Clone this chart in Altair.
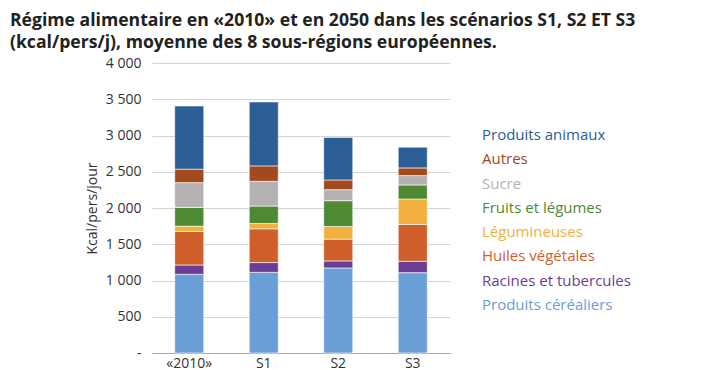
import altair as alt
import pandas as pd

scenarios = ["«2010»", "S1", "S2", "S3"]
categories = ["Produits céréaliers", "Racines et tubercules", "Huiles végétales",
              "Légumineuses", "Fruits et légumes", "Sucre", "Autres", "Produits animaux"]
colors = ["#6a9ed6", "#6b3d97", "#cf5f2a", "#f2b03e", "#4e8a33", "#b5b0b2", "#a04a1e", "#2b5e94"]

cereales = [1085, 1113, 1173, 1108]
racines = [129, 134, 97, 157]
huiles = [462, 466, 300, 508]
legumineuses = [74, 74, 175, 351]
fruits = [258, 240, 356, 194]
sucre = [342, 341, 152, 129]
autres = [185, 213, 134, 106]
animaux = [872, 882, 586, 286]

series = [cereales, racines, huiles, legumineuses, fruits, sucre, autres, animaux]

rows = []
for ci, (cat, vals) in enumerate(zip(categories, series)):
    for s, v in zip(scenarios, vals):
        rows.append({"scenario": s, "cat": cat, "value": v, "order": ci})
df = pd.DataFrame(rows)

legend_order = list(reversed(categories))
leg_df = pd.DataFrame({"cat": legend_order})

color_scale = alt.Scale(domain=categories, range=colors)
FONT = "Open Sans"

bars = alt.Chart(df).mark_bar(stroke="white", strokeWidth=0.6).encode(
    x=alt.X("scenario:N", sort=scenarios, title=None,
            scale=alt.Scale(paddingInner=0.61, paddingOuter=0.305),
            axis=alt.Axis(labelAngle=0, ticks=False, domainColor="#a8a8a8",
                          labelFontSize=14, labelColor="#333333", labelPadding=3,
                          labelFont=FONT)),
    y=alt.Y("value:Q", stack="zero", title="Kcal/pers/jour",
            scale=alt.Scale(domain=[0, 4000]),
            axis=alt.Axis(values=[0, 500, 1000, 1500, 2000, 2500, 3000, 3500, 4000],
                          labelExpr="datum.value == 0 ? '-' : replace(format(datum.value, ','), ',', ' ')",
                          domain=False, ticks=False, gridColor="#d4d4d4",
                          labelFontSize=14, labelColor="#333333", labelPadding=11,
                          labelFont=FONT, titleFont=FONT, titleFontSize=14,
                          titleFontWeight="normal", titleColor="#333333", titlePadding=6)),
    color=alt.Color("cat:N", scale=color_scale, legend=None),
    order=alt.Order("order:Q", sort="ascending"),
)

legend_text = alt.Chart(leg_df).mark_text(align="left", baseline="middle", fontSize=15,
                                          font=FONT).encode(
    x=alt.value(330),
    y=alt.Y("cat:N", sort=legend_order, axis=None,
            scale=alt.Scale(range=[72, 242], padding=0)),
    text="cat:N",
    color=alt.Color("cat:N", scale=color_scale, legend=None),
)

chart = alt.layer(bars, legend_text).resolve_scale(y="independent").properties(
    width=298, height=290,
    autosize="none",
    padding={"left": 144, "top": 55, "right": 260, "bottom": 20},
    title=alt.TitleParams(
        text=["Régime alimentaire en «2010» et en 2050 dans les scénarios S1, S2 ET S3",
              "(kcal/pers/j), moyenne des 8 sous-régions européennes."],
        anchor="start", frame="group", dx=-142, fontSize=17.6, font=FONT,
        fontWeight="bold", color="#222222", lineHeight=22, offset=4),
).configure_view(stroke=None)

chart.save("out.html", embed_options={"renderer": "svg", "actions": False})
